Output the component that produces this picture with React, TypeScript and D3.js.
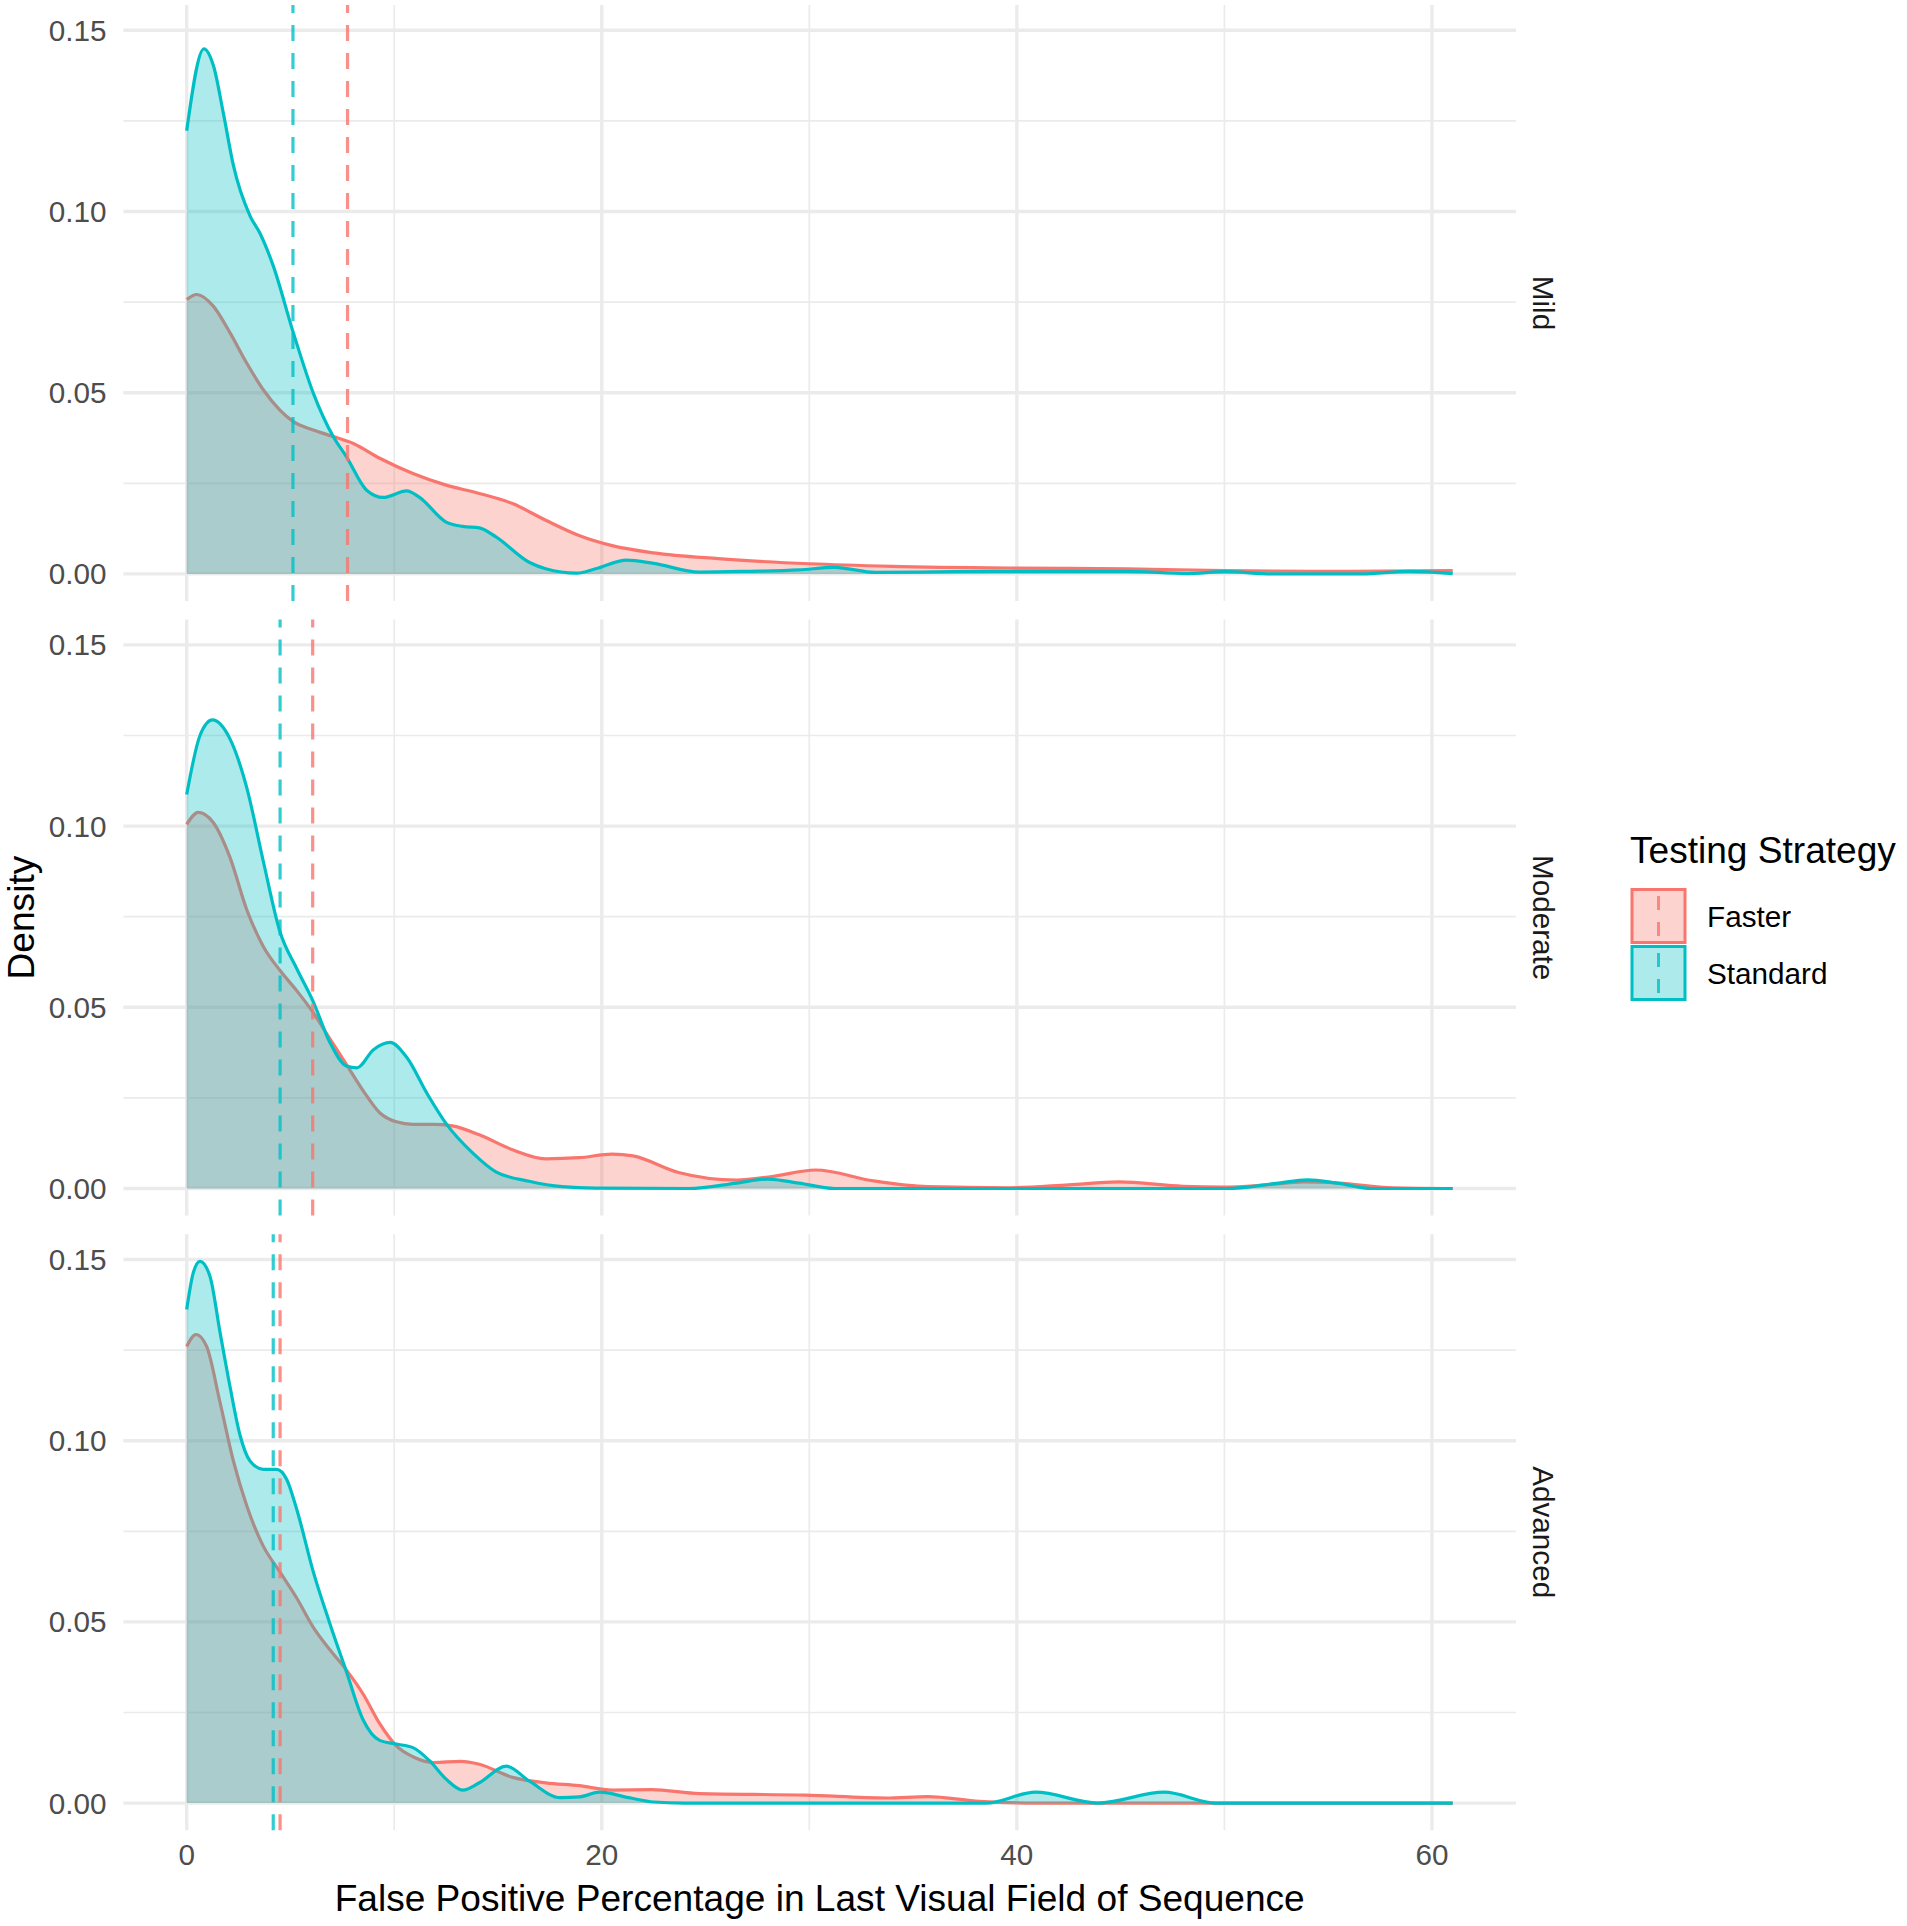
import React, { useEffect } from 'react';
import * as d3 from 'd3';

type Pt = [number, number];

const panelNames = ['Mild', 'Moderate', 'Advanced'];
const strategyNames = ['Faster', 'Standard'];
const strategyColors = ['#F8766D', '#00BFC4'];

// x = false positive %, y = density
const mildFaster: Pt[] = [[0,0.0757],[0.48,0.0771],[1.28,0.0739],[2.09,0.0665],[2.89,0.0582],[3.69,0.0508],[4.49,0.0452],[5.14,0.042],[6.1,0.0397],[7.06,0.0379],[8.03,0.036],[9.3,0.0319],[10.9,0.0277],[12.5,0.0245],[14.1,0.0222],[15.7,0.0194],[17.3,0.0148],[18.9,0.0106],[20.5,0.0078],[22.5,0.0058],[25.6,0.0042],[30,0.0028],[34,0.0021],[40,0.0016],[45.3,0.0014],[50,0.0009],[55.2,0.0007],[61,0.0009]];
const mildStandard: Pt[] = [[0,0.1223],[0.83,0.1449],[1.3,0.140],[1.77,0.127],[2.25,0.1127],[3.05,0.0988],[3.53,0.094],[4.17,0.085],[5.14,0.0665],[6.1,0.0499],[7.06,0.0379],[7.7,0.0323],[8.67,0.0231],[9.47,0.0211],[10.6,0.0229],[11.2,0.0212],[12.5,0.0143],[13.3,0.0131],[14.1,0.0127],[14.9,0.0102],[16.5,0.0032],[17.3,0.0014],[18.8,0.0002],[19.7,0.0014],[21.2,0.0038],[22.5,0.0029],[24.7,0.0005],[27,0.0007],[29.5,0.0011],[31.2,0.0018],[33.2,0.0004],[36.9,0.0006],[39.7,0.0007],[45.3,0.0007],[48.2,0.0001],[50,0.0006],[52.4,0],[56.6,0],[58.9,0.0007],[61,0.0001]];
const moderateFaster: Pt[] = [[0,0.1005],[0.56,0.1038],[1.28,0.101],[2.09,0.0913],[2.89,0.077],[3.69,0.0668],[4.49,0.0602],[5.3,0.0546],[6.1,0.0485],[6.9,0.0413],[7.7,0.0342],[8.5,0.027],[9.3,0.0209],[10.1,0.0184],[10.9,0.0177],[11.9,0.0177],[12.8,0.0173],[14.1,0.0148],[15.7,0.0107],[17.3,0.0082],[18.9,0.0085],[20.5,0.0095],[21.5,0.009],[23.7,0.0044],[26.5,0.0023],[28.2,0.0033],[30.3,0.0051],[33.1,0.0021],[35.7,0.0005],[39.6,0.0002],[42.5,0.001],[44.9,0.0018],[48,0.0006],[50,0.0004],[52,0.001],[53.8,0.0018],[55.5,0.0015],[58.1,0.0002],[61,0]];
const moderateStandard: Pt[] = [[0,0.1087],[0.64,0.125],[1.24,0.1293],[2.09,0.124],[2.89,0.1107],[3.69,0.0903],[4.49,0.0709],[5.3,0.0607],[6.1,0.0515],[6.9,0.0403],[7.7,0.0338],[8.2,0.0333],[9.0,0.0383],[9.8,0.0403],[10.6,0.0362],[11.6,0.026],[12.5,0.0179],[13.8,0.0097],[14.9,0.0046],[16.5,0.002],[18.1,0.0005],[19.7,0.0001],[24.2,0],[26.5,0.0015],[28,0.0026],[29.5,0.0015],[31.2,0],[50.1,0],[52.5,0.0014],[54,0.0024],[55.5,0.0014],[57.1,0],[61,0]];
const advancedFaster: Pt[] = [[0,0.126],[0.45,0.1293],[0.96,0.126],[1.6,0.1107],[2.25,0.0944],[2.89,0.0821],[3.69,0.0709],[4.49,0.0638],[5.3,0.0566],[6.1,0.0485],[6.9,0.0423],[7.7,0.0367],[8.5,0.0301],[9.3,0.0219],[10.1,0.0158],[10.9,0.0128],[11.9,0.0112],[13.2,0.0115],[14.1,0.0107],[15.7,0.0071],[17.3,0.0056],[18.9,0.0048],[20.5,0.0036],[22.4,0.0037],[24.7,0.0026],[29.8,0.0022],[33.7,0.0014],[35.7,0.0018],[38.2,0.0005],[41,0],[61,0]];
const advancedStandard: Pt[] = [[0,0.1362],[0.32,0.1464],[0.64,0.1495],[1.12,0.1454],[1.6,0.1301],[2.09,0.1148],[2.57,0.1015],[3.05,0.0944],[3.69,0.0921],[4.33,0.0921],[4.82,0.0893],[5.3,0.0811],[6.1,0.0638],[6.9,0.0495],[7.7,0.0362],[8.5,0.023],[9.3,0.0173],[10.1,0.0163],[10.9,0.0153],[11.7,0.0117],[12.5,0.0066],[13.3,0.0036],[14.1,0.0056],[15.4,0.0102],[16.5,0.0061],[18,0.0015],[18.9,0.0017],[19.9,0.003],[21.3,0.0015],[22.5,0.0003],[24,0],[38.5,0],[40.9,0.003],[43.9,0],[47.1,0.003],[49.6,0],[61,0]];

const meanFaster = [7.75, 6.07, 4.5];
const meanStandard = [5.12, 4.5, 4.17];

const xMajorTicks = [0, 20, 40, 60];
const xMinorTicks = [10, 30, 50];
const yMajorTicks = [0, 0.05, 0.1, 0.15];
const yMinorTicks = [0.025, 0.075, 0.125];

const series: Pt[][][] = [
  [mildFaster, mildStandard],
  [moderateFaster, moderateStandard],
  [advancedFaster, advancedStandard],
];
const means = [meanFaster, meanStandard];

const W = 1907;
const H = 1926;
const FONT = "'Liberation Sans', Arial, Helvetica, sans-serif";
const panelLeft = 123.4;
const panelRight = 1516;
const panelTop0 = 5;
const panelH = 596;
const panelStep = 614.6;

export default function App() {
  useEffect(() => {
    document.body.style.margin = '0';
  }, []);

  const x = d3.scaleLinear().domain([-3.05, 64.05]).range([panelLeft, panelRight]);
  const fmt = d3.format('.2f');

  return (
    <svg width={W} height={H} style={{ display: 'block', position: 'absolute', left: 0, top: 0, background: '#fff' }} fontFamily={FONT}>
      {panelNames.map((name, pi) => {
        const top = panelTop0 + pi * panelStep;
        const y = d3.scaleLinear().domain([-0.00748, 0.15698]).range([top + panelH, top]);
        const area = d3.area<Pt>().x(d => x(d[0])).y0(y(0)).y1(d => y(d[1])).curve(d3.curveMonotoneX);
        const line = d3.line<Pt>().x(d => x(d[0])).y(d => y(d[1])).curve(d3.curveMonotoneX);
        return (
          <g key={name}>
            {yMinorTicks.map(t => (
              <line key={'ym' + t} x1={panelLeft} x2={panelRight} y1={y(t)} y2={y(t)} stroke="#EBEBEB" strokeWidth={1.7} />
            ))}
            {xMinorTicks.map(t => (
              <line key={'xm' + t} x1={x(t)} x2={x(t)} y1={top} y2={top + panelH} stroke="#EBEBEB" strokeWidth={1.7} />
            ))}
            {yMajorTicks.map(t => (
              <line key={'yM' + t} x1={panelLeft} x2={panelRight} y1={y(t)} y2={y(t)} stroke="#EBEBEB" strokeWidth={3.4} />
            ))}
            {xMajorTicks.map(t => (
              <line key={'xM' + t} x1={x(t)} x2={x(t)} y1={top} y2={top + panelH} stroke="#EBEBEB" strokeWidth={3.4} />
            ))}
            {series[pi].map((data, si) => (
              <g key={'s' + si}>
                <path d={area(data) || ''} fill={strategyColors[si]} fillOpacity={0.32} stroke="none" />
                <path d={line(data) || ''} fill="none" stroke={strategyColors[si]} strokeWidth={3.2} />
              </g>
            ))}
            {means.map((m, si) => (
              <line key={'v' + si} x1={x(m[pi])} x2={x(m[pi])} y1={top + panelH} y2={top} stroke={strategyColors[si]} strokeOpacity={0.8} strokeWidth={3.2} strokeDasharray="16 12" />
            ))}
            {yMajorTicks.map(t => (
              <text key={'yl' + t} x={106.5} y={y(t) + 10.6} textAnchor="end" fontSize={29.7} fill="#4D4D4D">{fmt(t)}</text>
            ))}
            <text transform={`translate(1533,${top + panelH / 2}) rotate(90)`} textAnchor="middle" fontSize={29.7} fill="#1A1A1A">{name}</text>
          </g>
        );
      })}
      {xMajorTicks.map(t => (
        <text key={'xl' + t} x={x(t)} y={1865} textAnchor="middle" fontSize={29.7} fill="#4D4D4D">{t}</text>
      ))}
      <text x={(panelLeft + panelRight) / 2} y={1911} textAnchor="middle" fontSize={37.1} fill="#000">False Positive Percentage in Last Visual Field of Sequence</text>
      <text transform={`translate(34,${panelTop0 + (2 * panelStep + panelH) / 2}) rotate(-90)`} textAnchor="middle" fontSize={37.1} fill="#000">Density</text>
      <text x={1630} y={863} fontSize={37.1} fill="#000">Testing Strategy</text>
      {strategyNames.map((s, si) => {
        const ky = 888 + si * 57;
        return (
          <g key={s}>
            <rect x={1632} y={ky + 1.5} width={53} height={53} fill={strategyColors[si]} fillOpacity={0.32} stroke={strategyColors[si]} strokeWidth={3} />
            <line x1={1658.5} x2={1658.5} y1={ky} y2={ky + 56} stroke={strategyColors[si]} strokeOpacity={0.8} strokeWidth={3} strokeDasharray="14 12" strokeDashoffset={-8} />
            <text x={1707} y={ky + 39} fontSize={29.7} fill="#000">{s}</text>
          </g>
        );
      })}
    </svg>
  );
}
